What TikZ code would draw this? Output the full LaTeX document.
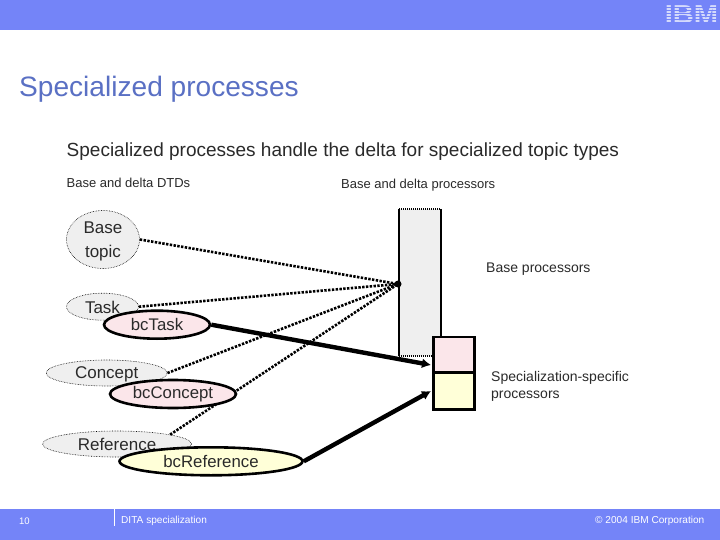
\documentclass[tikz,border=0pt]{standalone}
\usepackage{fontspec}
\setmainfont{Liberation Sans}
\usetikzlibrary{shapes.geometric,arrows.meta}
\definecolor{band}{HTML}{7484F8}
\definecolor{titleblue}{HTML}{5A70C4}
\definecolor{ink}{HTML}{2A2A2A}
\definecolor{gfill}{HTML}{EFEFEF}
\definecolor{pinkf}{HTML}{FBE6EA}
\definecolor{yelf}{HTML}{FFFFD8}
\definecolor{logoc}{HTML}{D4DAFC}
\newcommand{\droptext}[2]{\vphantom{#2}\smash{\raisebox{-#1}{#2}}}
\tikzset{
 x=1pt,y=-1pt,
 lbl/.style={inner sep=0pt,anchor=west,text=ink},
 base/.style={ellipse,draw=black,densely dotted,line width=.6pt,fill=gfill,inner sep=0pt,text=ink,font=\fontsize{17}{24}\selectfont,align=center},
 spec/.style={ellipse,draw=black,line width=2.6pt,inner sep=0pt,text=ink,font=\fontsize{16.8}{17}\selectfont},
 dotline/.style={draw=black,line width=2.6pt,dash pattern=on 2.4pt off 1.4pt},
 thick arrow/.style={draw=black,line width=4.4pt,-{Latex[length=9pt,width=10pt]}},
 foot/.style={inner sep=0pt,anchor=west,text=white,font=\fontsize{10.1}{12}\selectfont},
 box/.style={draw=black,line width=2.8pt,minimum width=41pt,inner sep=0pt,anchor=north west},
}
\begin{document}
\begin{tikzpicture}
\useasboundingbox (0,0) rectangle (720,540);
\fill[white] (0,0) rectangle (720,540);
\fill[band] (0,0) rectangle (720,30);
\fill[band] (0,509) rectangle (720,540);
\node[inner sep=0pt,text=logoc,xscale=1.12,font=\fontsize{26}{26}\bfseries] (logo) at (691.5,14.5) {IBM};
\foreach \yy in {7.5,10.5,13.5,16.5,19.5,22.5}{\fill[band] (660,\yy) rectangle (720,\yy+.9);}
\node[lbl,text=titleblue,font=\fontsize{28.1}{30}\selectfont] (title) at (19,89.5) {Specialized processes};
\node[lbl,font=\fontsize{19}{21}\selectfont] (sub) at (66.5,151.5) {Specialized processes handle the delta for specialized topic types};
\node[lbl,font=\fontsize{13}{15}\selectfont] (l1) at (66.5,183) {Base and delta DTDs};
\node[lbl,font=\fontsize{13}{15}\selectfont] (l2) at (341,185) {Base and delta processors};
\node[lbl,font=\fontsize{14}{16}\selectfont] (l3) at (486,269) {Base processors};
\node[lbl,align=left,font=\fontsize{14}{17}\selectfont] (l4) at (491,386) {Specialization-specific\\processors};
% base processor column
\fill[gfill] (399,209) rectangle (441,356);
\draw[black,line width=1.6pt] (399,209) -- (399,356) (441,209) -- (441,356);
\draw[black,line width=1.6pt,dash pattern=on 1pt off 1pt] (399,209) -- (441,209) (399,356) -- (441,356);
\coordinate (hub) at (398,284);
% base ellipses
\node[base,minimum width=73pt,minimum height=58pt] (bt) at (103,239.5) {\droptext{1.5pt}{Base}\\\droptext{1.5pt}{topic}};
\node[base,minimum width=72pt,minimum height=27pt] (task) at (102.5,306.7) {\droptext{1pt}{Task}};
\node[base,minimum width=121pt,minimum height=26pt] (con) at (106.7,373) {\droptext{1.5pt}{Concept}};
\node[base,minimum width=149pt,minimum height=26pt] (ref) at (117,444) {Reference};
\draw[dotline] (bt.east) -- (hub);
\draw[dotline] (task.east) -- (hub);
\draw[dotline] (con.east) -- (hub);
\draw[dotline] (ref.10) -- (hub);
\fill[black] (hub) circle (3.5pt);
% spec boxes
\node[box,fill=pinkf,minimum height=35.5pt] (pa) at (432,335.5) {};
\node[box,fill=yelf,minimum height=37pt] (pb) at (432,371) {};
\coordinate (pat) at (431,365);
\coordinate (pbt) at (431,391);
% spec ellipses
\node[spec,fill=pinkf,minimum width=106pt,minimum height=28pt] (bct) at (157,324.7) {bcTask};
\node[spec,fill=pinkf,minimum width=126pt,minimum height=28pt] (bcc) at (173,394) {bcConcept};
\node[spec,fill=yelf,minimum width=183pt,minimum height=28pt] (bcr) at (211,461.3) {bcReference};
\draw[thick arrow] (bct.east) -- (pat);
\draw[thick arrow] (bcr.east) -- (pbt);
% footer
\node[foot,font=\fontsize{9.5}{10}\selectfont] (pg) at (19,521) {10};
\draw[white,line width=.8pt] (114.5,509) -- (114.5,526);
\node[foot] (ft) at (121,521) {DITA specialization};
\node[foot,anchor=east] (cr) at (704.5,521) {© 2004 IBM Corporation};
\end{tikzpicture}
\end{document}
